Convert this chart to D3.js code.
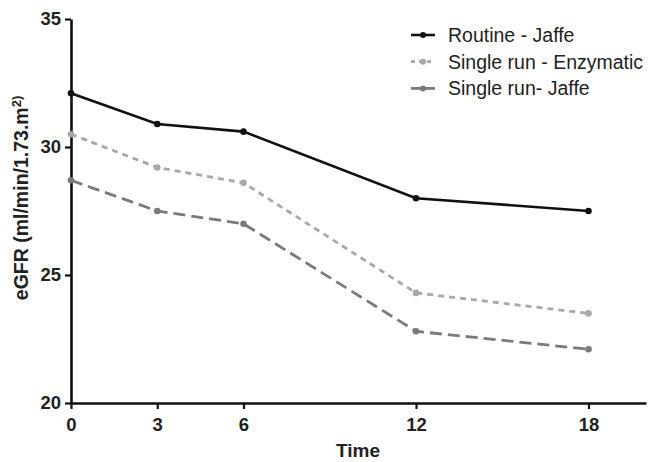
<!DOCTYPE html>
<html>
<head>
<meta charset="utf-8">
<script src="https://cdn.jsdelivr.net/npm/d3@7"></script>
<style>
  body { margin: 0; background: #fff; }
  text { font-family: "Liberation Sans", Arial, sans-serif; }
  .tick--label { font-size: 18.5px; font-weight: bold; fill: #222; }
  .axis--title { font-size: 19px; font-weight: bold; fill: #222; }
  .legend--text { font-size: 19.5px; fill: #222; }
</style>
</head>
<body>
<div id="chart"></div>
<script>
// Title Data
const times = [0, 3, 6, 12, 18];
const routineJaffe = [32.1, 30.9, 30.6, 28.0, 27.5];
const singleEnzymatic = [30.5, 29.2, 28.6, 24.3, 23.5];
const singleJaffe = [28.7, 27.5, 27.0, 22.8, 22.1];
const xTicks = [0, 3, 6, 12, 18];
const yTicks = [20, 25, 30, 35];
const seriesNames = ["Routine - Jaffe", "Single run - Enzymatic", "Single run- Jaffe"];

const series = [
    { name: seriesNames[0], values: routineJaffe, color: "#111111", dash: null, width: 2.6 },
    { name: seriesNames[1], values: singleEnzymatic, color: "#a8a8a8", dash: "6,5", width: 2.8 },
    { name: seriesNames[2], values: singleJaffe, color: "#7a7a7a", dash: "12,6", width: 2.8 }
];

const width = 649;
const height = 462;
const margin = { top: 19, right: 3, bottom: 59, left: 71 };

const svg = d3.select("#chart")
    .append("svg")
    .attr("width", width)
    .attr("height", height);

const xScale = d3.scaleLinear()
    .domain([0, 20])
    .range([margin.left, width - margin.right]);

const yScale = d3.scaleLinear()
    .domain([20, 35])
    .range([height - margin.bottom, margin.top]);

// Title Axes
const xAxis = svg.append("g")
    .attr("transform", `translate(0,${height - margin.bottom})`)
    .call(d3.axisBottom(xScale).tickValues(xTicks).tickSize(6).tickPadding(9).tickSizeOuter(0));

const yAxis = svg.append("g")
    .attr("transform", `translate(${margin.left},0)`)
    .call(d3.axisLeft(yScale).tickValues(yTicks).tickSize(6).tickPadding(4).tickSizeOuter(0));

[xAxis, yAxis].forEach(function(a) {
    a.attr("font-size", null).attr("font-family", null);
    a.select(".domain").attr("stroke", "#111").attr("stroke-width", 2.6);
    a.selectAll(".tick line").attr("stroke", "#111").attr("stroke-width", 2.2);
    a.selectAll(".tick text").attr("class", "tick--label");
});

svg.append("text")
    .attr("class", "axis--title")
    .attr("x", 358)
    .attr("y", 457)
    .attr("text-anchor", "middle")
    .text("Time");

const yTitle = svg.append("text")
    .attr("class", "axis--title")
    .attr("transform", "translate(28,198) rotate(-90)")
    .attr("text-anchor", "middle")
    .style("font-size", "19.5px");
yTitle.append("tspan").text("eGFR (ml/min/1.73.m");
yTitle.append("tspan").attr("baseline-shift", "super").style("font-size", "13px").text("2)");

// Title Lines and markers
const line = d3.line()
    .x(function(d, i) { return xScale(times[i]); })
    .y(function(d) { return yScale(d); });

series.forEach(function(s) {
    svg.append("path")
        .datum(s.values)
        .attr("fill", "none")
        .attr("stroke", s.color)
        .attr("stroke-width", s.width)
        .attr("stroke-dasharray", s.dash)
        .attr("d", line);

    svg.selectAll(null)
        .data(s.values)
        .enter()
        .append("circle")
        .attr("cx", function(d, i) { return xScale(times[i]); })
        .attr("cy", function(d) { return yScale(d); })
        .attr("r", 3.3)
        .attr("fill", s.color);
});

// Title Legend
const legend = svg.append("g");
series.forEach(function(s, i) {
    const y = 35 + 26.7 * i;
    legend.append("line")
        .attr("x1", 411).attr("x2", 435)
        .attr("y1", y).attr("y2", y)
        .attr("stroke", s.color)
        .attr("stroke-width", s.width)
        .attr("stroke-dasharray", i === 1 ? "4,4" : null);
    legend.append("circle")
        .attr("cx", 423).attr("cy", y).attr("r", 3)
        .attr("fill", s.color);
    legend.append("text")
        .attr("class", "legend--text")
        .attr("x", 448)
        .attr("y", y + 7)
        .text(s.name);
});
</script>
</body>
</html>
